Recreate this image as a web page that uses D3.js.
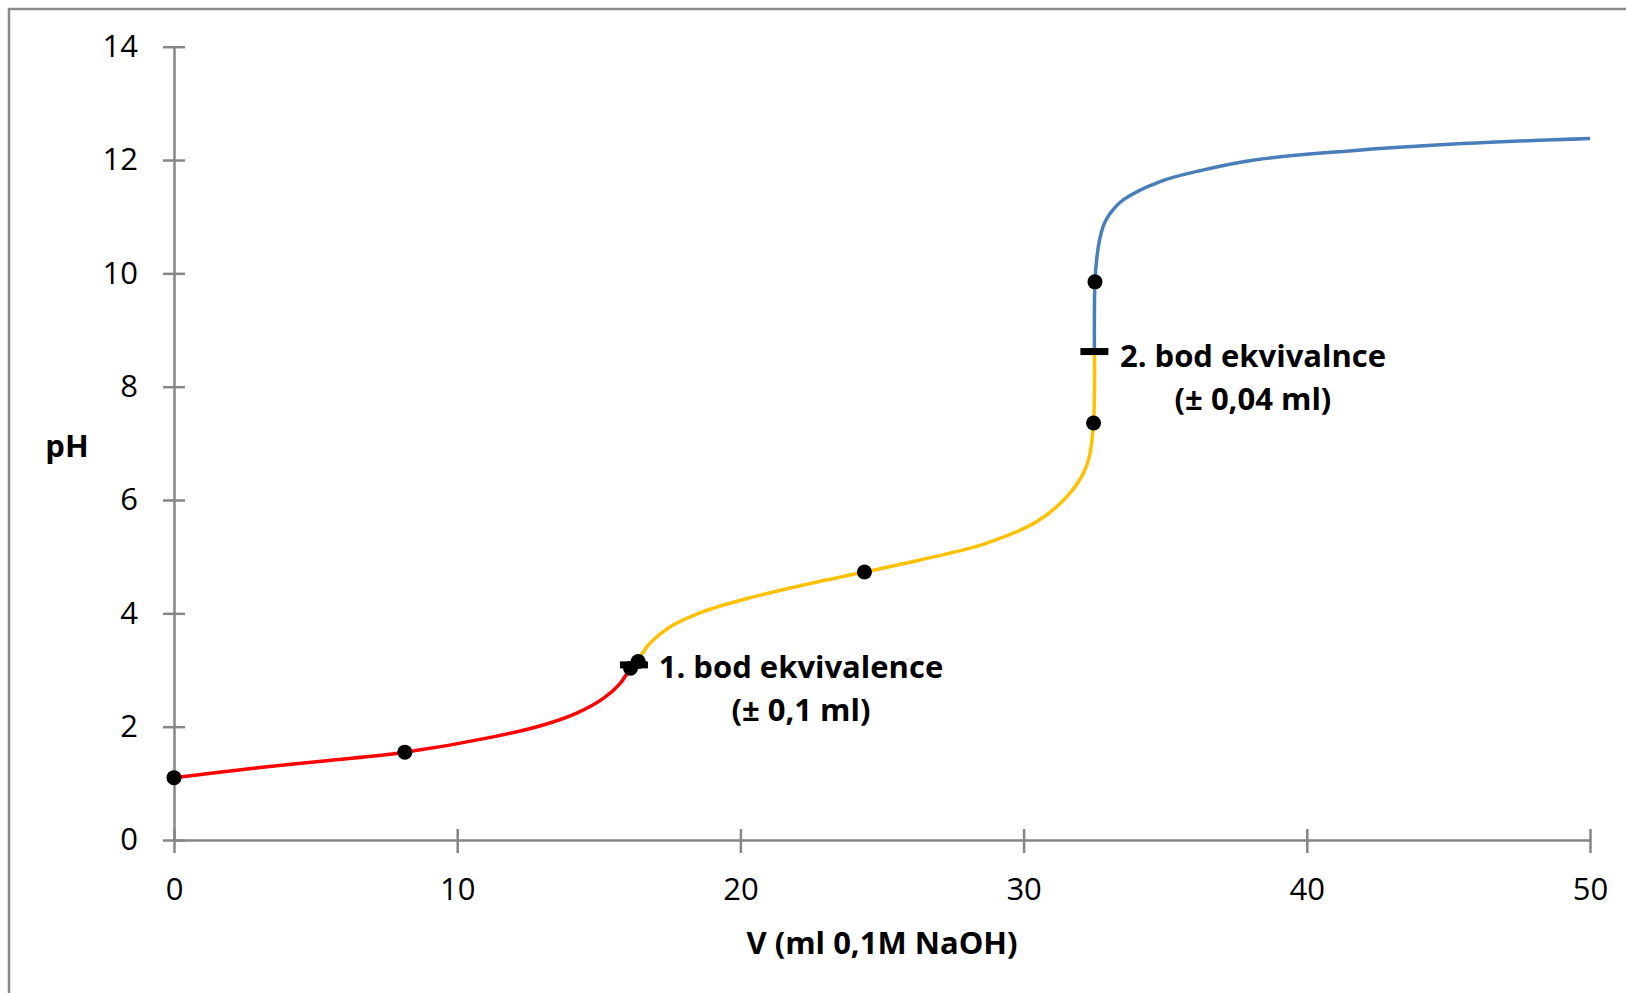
<!DOCTYPE html>
<html>
<head>
<meta charset="utf-8">
<script src="https://cdn.jsdelivr.net/npm/d3@7"></script>
<style>
  body { margin: 0; background: #fff; }
  svg { display: block; font-family: "Open Sans", "Noto Sans", sans-serif; }
  .axis path, .axis line { stroke: #868686; stroke-width: 2.5px; }
  .axis text { font-size: 31px; fill: #000; font-family: "Open Sans", sans-serif; }
  .curve { fill: none; stroke-width: 3.5px; stroke-linejoin: round; }
  .title, .note { font-size: 31px; font-weight: bold; fill: #000; }
</style>
</head>
<body>
<div id="graph"></div>
<script>
// volume of NaOH (ml) vs pH
var redData = [[0, 1.10], [3.04, 1.28], [5.39, 1.40], [8.15, 1.55], [11.27, 1.82], [13.04, 2.03],
    [14.22, 2.24], [15.16, 2.50], [15.75, 2.76], [16.12, 3.03], [16.24, 3.09]];
var yellowData = [[16.24, 3.09], [16.45, 3.23], [16.8, 3.47], [17.51, 3.76], [18.69, 4.03],
    [20.46, 4.29], [22.22, 4.50], [24.38, 4.73], [26.34, 4.94], [28.70, 5.24], [30.47, 5.62],
    [31.53, 6.06], [32.11, 6.47], [32.32, 6.76], [32.47, 7.36], [32.50, 8.62]];
var blueData = [[32.50, 8.62], [32.52, 9.85], [32.59, 10.29], [32.70, 10.63], [32.85, 10.88],
    [33.06, 11.06], [33.53, 11.30], [34.82, 11.62], [36.13, 11.80], [38.15, 12.00], [41.5, 12.16],
    [45.5, 12.29], [50, 12.38]];
var dotPoints = [[0, 1.10], [8.15, 1.55], [16.12, 3.03], [16.39, 3.15], [24.38, 4.73],
    [32.47, 7.36], [32.52, 9.85]];
var eqPoints = [[16.24, 3.09], [32.50, 8.62]];
var eqLabels = [["1. bod ekvivalence", "(± 0,1 ml)"], ["2. bod ekvivalnce", "(± 0,04 ml)"]];
var xTicks = [0, 10, 20, 30, 40, 50];
var yTicks = [0, 2, 4, 6, 8, 10, 12, 14];

var W = 1626, H = 993;

var svg = d3.select("#graph").append("svg")
    .attr("width", W)
    .attr("height", H);

// chart frame, runs off the right/bottom edge like the screenshot
svg.append("rect")
    .attr("x", 9).attr("y", 9)
    .attr("width", W + 20).attr("height", H + 20)
    .attr("fill", "#fff")
    .attr("stroke", "#8a8a8a")
    .attr("stroke-width", 2.5);

var xScale = d3.scaleLinear().domain([0, 50]).range([174, 1590]);
var yScale = d3.scaleLinear().domain([0, 14]).range([840, 46.7]);

// axes with crossing tick marks
var yAxis = svg.append("g")
    .attr("class", "axis")
    .attr("transform", "translate(" + xScale(0) + ",0)")
    .call(d3.axisLeft(yScale).tickValues(yTicks).tickSize(11).tickSizeOuter(0).tickPadding(25));
yAxis.selectAll(".tick line").attr("x1", -11).attr("x2", 11);

var xAxis = svg.append("g")
    .attr("class", "axis")
    .attr("transform", "translate(0," + yScale(0) + ")")
    .call(d3.axisBottom(xScale).tickValues(xTicks).tickSize(11).tickSizeOuter(0));
xAxis.selectAll(".tick line").attr("y1", -11).attr("y2", 13);
xAxis.selectAll(".tick text").attr("y", 38).attr("dy", "0.71em");

// axis titles
svg.append("text")
    .attr("class", "title")
    .attr("x", 67).attr("y", 457)
    .attr("text-anchor", "middle")
    .text("pH");

svg.append("text")
    .attr("class", "title")
    .attr("x", 882).attr("y", 954)
    .attr("text-anchor", "middle")
    .text("V (ml 0,1M NaOH)");

var line = d3.line()
    .x(function(d) { return xScale(d[0]); })
    .y(function(d) { return yScale(d[1]); })
    .curve(d3.curveCatmullRom.alpha(0.5));

var series = [
    {data: redData, color: "#ff0000"},
    {data: yellowData, color: "#ffc000"},
    {data: blueData, color: "#4a7ebb"}
];

svg.selectAll(".curve")
    .data(series)
    .enter().append("path")
    .attr("class", "curve")
    .attr("stroke", function(d) { return d.color; })
    .attr("d", function(d) { return line(d.data); });

svg.selectAll(".dot")
    .data(dotPoints)
    .enter().append("circle")
    .attr("class", "dot")
    .attr("cx", function(d) { return xScale(d[0]); })
    .attr("cy", function(d) { return yScale(d[1]); })
    .attr("r", 7.5)
    .attr("fill", "#000");

// equivalence point dashes
svg.selectAll(".eq")
    .data(eqPoints)
    .enter().append("rect")
    .attr("class", "eq")
    .attr("x", function(d) { return xScale(d[0]) - 14; })
    .attr("y", function(d) { return yScale(d[1]) - 3.5; })
    .attr("width", 28)
    .attr("height", 7)
    .attr("fill", "#000");

// annotation text blocks, centred under each other
var notePos = [[801, 678], [1253, 367]];
eqLabels.forEach(function(lines, i) {
    var t = svg.append("text")
        .attr("class", "note")
        .attr("text-anchor", "middle");
    lines.forEach(function(s, j) {
        t.append("tspan")
            .attr("x", notePos[i][0])
            .attr("y", notePos[i][1] + j * 43)
            .text(s);
    });
});
</script>
</body>
</html>
